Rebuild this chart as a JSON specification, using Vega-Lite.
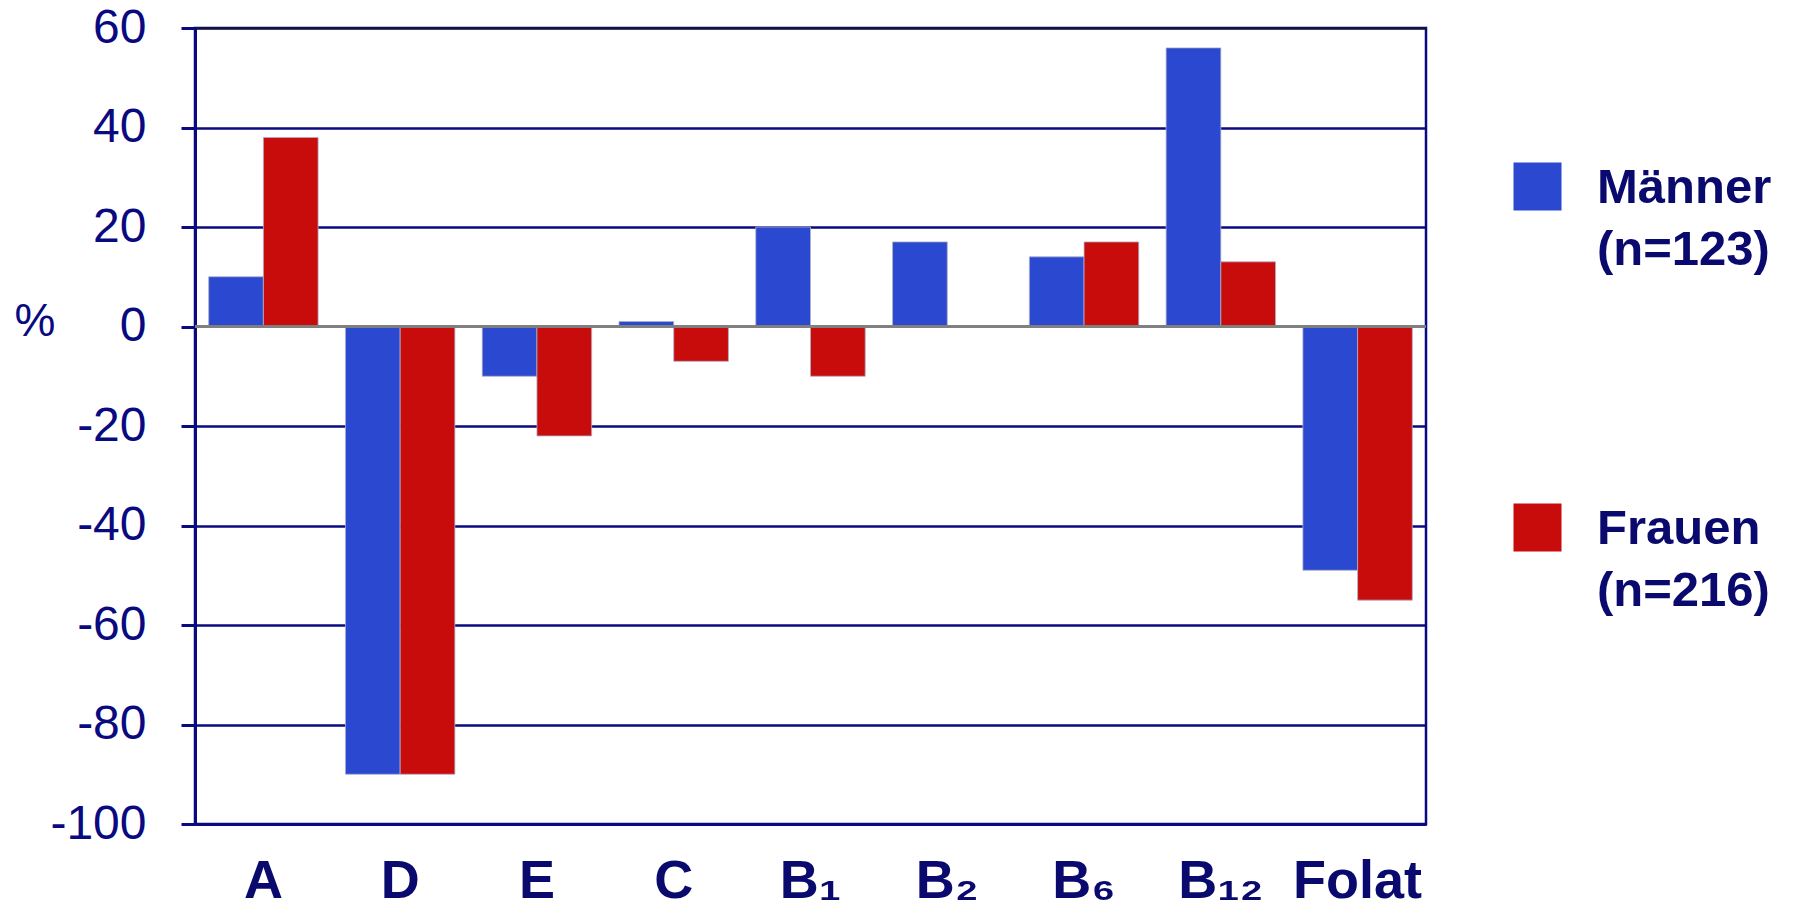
{
  "$schema": "https://vega.github.io/schema/vega-lite/v6.json",
  "width": 1231,
  "height": 796,
  "autosize": {"type": "none"},
  "padding": {"left": 195, "top": 28, "right": 374, "bottom": 89},
  "background": "white",
  "config": {
    "view": {"stroke": "#0a0a80", "strokeWidth": 2.5},
    "font": "Liberation Sans",
    "style": {"guide-label": {"lineHeight": 62}}
  },
  "data": {
    "values": [
      {"Vitamin": "A", "Gruppe": "Männer (n=123)", "Prozent": 10},
      {"Vitamin": "A", "Gruppe": "Frauen (n=216)", "Prozent": 38},
      {"Vitamin": "D", "Gruppe": "Männer (n=123)", "Prozent": -90},
      {"Vitamin": "D", "Gruppe": "Frauen (n=216)", "Prozent": -90},
      {"Vitamin": "E", "Gruppe": "Männer (n=123)", "Prozent": -10},
      {"Vitamin": "E", "Gruppe": "Frauen (n=216)", "Prozent": -22},
      {"Vitamin": "C", "Gruppe": "Männer (n=123)", "Prozent": 1},
      {"Vitamin": "C", "Gruppe": "Frauen (n=216)", "Prozent": -7},
      {"Vitamin": "B₁", "Gruppe": "Männer (n=123)", "Prozent": 20},
      {"Vitamin": "B₁", "Gruppe": "Frauen (n=216)", "Prozent": -10},
      {"Vitamin": "B₂", "Gruppe": "Männer (n=123)", "Prozent": 17},
      {"Vitamin": "B₂", "Gruppe": "Frauen (n=216)", "Prozent": 0},
      {"Vitamin": "B₆", "Gruppe": "Männer (n=123)", "Prozent": 14},
      {"Vitamin": "B₆", "Gruppe": "Frauen (n=216)", "Prozent": 17},
      {"Vitamin": "B₁₂", "Gruppe": "Männer (n=123)", "Prozent": 56},
      {"Vitamin": "B₁₂", "Gruppe": "Frauen (n=216)", "Prozent": 13},
      {"Vitamin": "Folat", "Gruppe": "Männer (n=123)", "Prozent": -49},
      {"Vitamin": "Folat", "Gruppe": "Frauen (n=216)", "Prozent": -55}
    ]
  },
  "layer": [
    {
      "mark": {"type": "bar", "stroke": "#b0b0c8", "strokeWidth": 0.8},
      "encoding": {
        "x": {
          "field": "Vitamin",
          "type": "nominal",
          "sort": null,
          "scale": {"paddingInner": 0.2, "paddingOuter": 0.1},
          "axis": {
            "title": null,
            "labelAngle": 0,
            "labelFontSize": 54,
            "labelFontWeight": "bold",
            "labelColor": "#0a0a6e",
            "labelPadding": 30,
            "labelBaseline": "top",
            "ticks": false,
            "domainColor": "#0a0a80",
            "domainWidth": 3
          }
        },
        "xOffset": {
          "field": "Gruppe",
          "type": "nominal",
          "sort": ["Männer (n=123)", "Frauen (n=216)"],
          "scale": {"paddingInner": 0, "paddingOuter": 0}
        },
        "y": {
          "field": "Prozent",
          "type": "quantitative",
          "scale": {"domain": [-100, 60], "nice": false, "zero": false},
          "axis": {
            "values": [-100, -80, -60, -40, -20, 0, 20, 40, 60],
            "labelExpr": "toString(datum.value)",
            "grid": true,
            "gridColor": {
              "condition": [
                {"test": "datum.value === 0", "value": "rgba(0,0,0,0)"},
                {"test": "datum.value === 60", "value": "#15153a"}
              ],
              "value": "#0a0a80"
            },
            "gridWidth": 2.5,
            "domainColor": "#0a0a80",
            "domainWidth": 3,
            "tickColor": "#0a0a80",
            "tickSize": 14,
            "tickWidth": 3,
            "labelFontSize": 48,
            "labelColor": "#0a0a80",
            "labelPadding": 35,
            "title": "%",
            "titleAngle": 0,
            "titleFontSize": 46,
            "titleFontWeight": "normal",
            "titleColor": "#0a0a80",
            "titleAlign": "left",
            "titleBaseline": "alphabetic",
            "titleX": -181,
            "titleY": 307
          }
        },
        "color": {
          "field": "Gruppe",
          "type": "nominal",
          "scale": {
            "domain": ["Männer (n=123)", "Frauen (n=216)"],
            "range": ["#2a48d0", "#c80c0c"]
          },
          "legend": {
            "orient": "none",
            "legendX": 1318,
            "legendY": 150,
            "title": null,
            "symbolType": "M-1,-1.667H1V0.333H-1Z",
            "symbolSize": 2304,
            "symbolStrokeWidth": 0,
            "symbolOpacity": 1,
            "labelFontSize": 49,
            "labelFontWeight": "bold",
            "labelColor": "#0a0a6e",
            "labelOffset": 35,
            "labelLimit": 500,
            "labelBaseline": "alphabetic",
            "labelExpr": "split(datum.label, ' ')",
            "rowPadding": 228,
            "encode": {"labels": {"lineHeight": {"value": 62}}}
          }
        }
      }
    },
    {
      "mark": {"type": "rule", "color": "#808080", "strokeWidth": 1.5},
      "encoding": {"y": {"datum": 0, "type": "quantitative"}}
    }
  ]
}
